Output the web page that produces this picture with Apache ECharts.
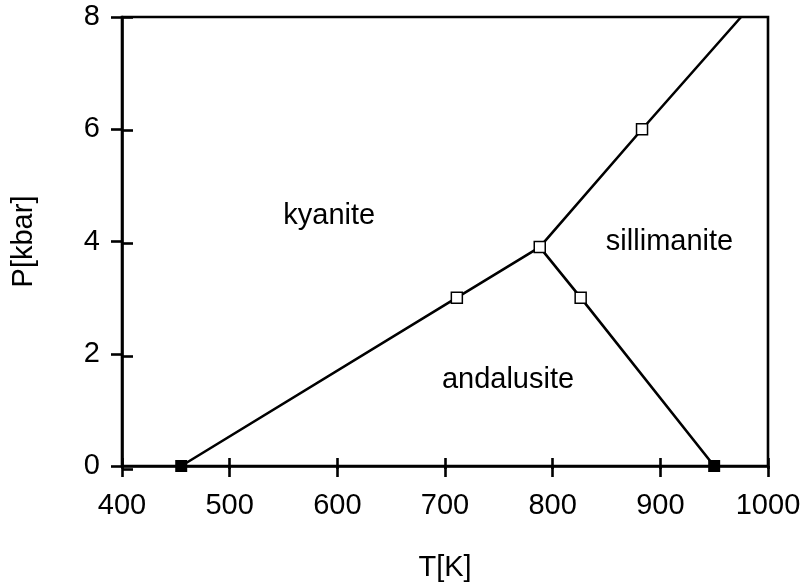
<!DOCTYPE html>
<html>
<head>
<meta charset="utf-8">
<script src="https://cdn.jsdelivr.net/npm/echarts@6/dist/echarts.min.js"></script>
<style>
html,body{margin:0;padding:0;background:#fff;}
#c{width:805px;height:587px;}
</style>
</head>
<body>
<div id="c"></div>
<script>
// Phase boundaries (T in K, P in kbar)
const kyaniteAndalusite = [[455, 0], [711, 3], [788, 3.9]];
const andalusiteSillimanite = [[788, 3.9], [826, 3], [950, 0]];
const kyaniteSillimanite = [[788, 3.9], [883, 6], [975, 8]];
const openPoints = [[711, 3], [788, 3.9], [826, 3], [883, 6]];
const filledPoints = [[455, 0], [950, 0]];
const regionLabels = [[593, 4.44, 'kyanite'], [909, 3.98, 'sillimanite'], [759, 1.52, 'andalusite']];
const xTicks = [400, 500, 600, 700, 800, 900, 1000];
const yTicks = [0, 2, 4, 6, 8];

const FONT = '"Liberation Sans", Arial, Helvetica, sans-serif';
const FS = 29;
const LW = 2.6;
const gridRect = {left: 122, right: 37, top: 17, bottom: 118};

const chart = echarts.init(document.getElementById('c'), null, {renderer: 'canvas'});
chart.setOption({
  animation: false,
  backgroundColor: '#fff',
  grid: [
    Object.assign({show: true, borderColor: '#000', borderWidth: LW, backgroundColor: 'transparent', containLabel: false}, gridRect),
    Object.assign({show: false, containLabel: false}, gridRect)
  ],
  xAxis: [{
    type: 'value', gridIndex: 0, min: xTicks[0], max: xTicks[xTicks.length - 1], interval: 100,
    position: 'bottom',
    name: 'T[K]', nameLocation: 'middle', nameGap: 87,
    nameTextStyle: {fontFamily: FONT, fontSize: FS, color: '#000'},
    axisLine: {show: true, lineStyle: {color: '#000', width: LW}},
    axisTick: {show: true, inside: false, length: 11, lineStyle: {color: '#000', width: LW}},
    axisLabel: {show: true, margin: 25, fontFamily: FONT, fontSize: FS, color: '#000', formatter: v => String(v)},
    splitLine: {show: false}
  }, {
    type: 'value', gridIndex: 1, min: xTicks[0], max: xTicks[xTicks.length - 1], interval: 100,
    position: 'bottom',
    axisLine: {show: false},
    axisTick: {show: true, inside: true, length: 11, lineStyle: {color: '#000', width: LW}},
    axisLabel: {show: false},
    splitLine: {show: false}
  }],
  yAxis: [{
    type: 'value', gridIndex: 0, min: yTicks[0], max: yTicks[yTicks.length - 1], interval: 2,
    position: 'left',
    name: 'P[kbar]', nameLocation: 'middle', nameGap: 84,
    nameTextStyle: {fontFamily: FONT, fontSize: FS, color: '#000'},
    axisLine: {show: true, lineStyle: {color: '#000', width: LW}},
    axisTick: {show: true, inside: false, length: 11, lineStyle: {color: '#000', width: LW}},
    axisLabel: {show: true, margin: 22, fontFamily: FONT, fontSize: FS, color: '#000', formatter: v => String(v)},
    splitLine: {show: false}
  }, {
    type: 'value', gridIndex: 1, min: yTicks[0], max: yTicks[yTicks.length - 1], interval: 2,
    position: 'left',
    axisLine: {show: false},
    axisTick: {show: true, inside: true, length: 11, lineStyle: {color: '#000', width: LW}},
    axisLabel: {show: false},
    splitLine: {show: false}
  }],
  series: [
    {type: 'line', data: kyaniteAndalusite, showSymbol: false, symbol: 'none', lineStyle: {color: '#000', width: LW}, z: 3},
    {type: 'line', data: andalusiteSillimanite, showSymbol: false, symbol: 'none', lineStyle: {color: '#000', width: LW}, z: 3},
    {type: 'line', data: kyaniteSillimanite, showSymbol: false, symbol: 'none', lineStyle: {color: '#000', width: LW}, z: 3},
    {type: 'scatter', data: openPoints, symbol: 'rect', symbolSize: 11,
     itemStyle: {color: '#fff', borderColor: '#000', borderWidth: 1.5, opacity: 1}, z: 4},
    {type: 'scatter', data: filledPoints, symbol: 'rect', symbolSize: 12,
     itemStyle: {color: '#000', opacity: 1}, z: 4},
    {type: 'scatter', data: regionLabels, symbolSize: 1, silent: true,
     itemStyle: {opacity: 0},
     label: {show: true, position: [0, 0], align: 'center', verticalAlign: 'middle',
             formatter: p => p.value[2],
             fontFamily: FONT, fontSize: FS, color: '#000', textBorderWidth: 0, opacity: 1}, z: 5}
  ]
});
</script>
</body>
</html>
